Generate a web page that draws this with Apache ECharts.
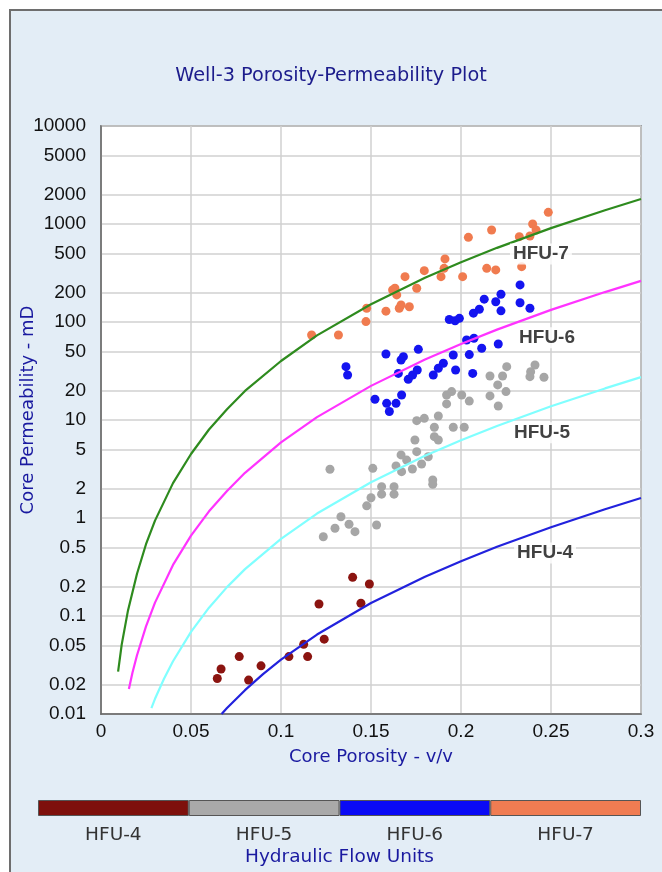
<!DOCTYPE html>
<html>
<head>
<meta charset="utf-8">
<script src="https://cdn.jsdelivr.net/npm/echarts@6/dist/echarts.min.js"></script>
<style>
  html, body { margin: 0; padding: 0; background: #fff; }
  #chart { width: 662px; height: 872px; }
</style>
</head>
<body>
<div id="chart"></div>
<script>
// y axis ticks (log scale, 1-2-5 per decade)
const yTicks = [0.01, 0.02, 0.05, 0.1, 0.2, 0.5, 1, 2, 5, 10, 20, 50, 100, 200, 500, 1000, 2000, 5000, 10000];
const units = ["HFU-4", "HFU-5", "HFU-6", "HFU-7"];

// core data points per flow unit (porosity v/v, permeability mD)
const hfu4Phi = [0.0646, 0.0667, 0.0768, 0.082, 0.0889, 0.1044, 0.1126, 0.1148, 0.1211, 0.124, 0.1398, 0.1444, 0.1491];
const hfu4K = [0.023, 0.0288, 0.0385, 0.0222, 0.031, 0.0385, 0.0514, 0.0385, 0.1325, 0.058, 0.248, 0.135, 0.212];

const hfu5Phi = [0.1272, 0.151, 0.1235, 0.13, 0.1333, 0.1378, 0.1411, 0.1476, 0.15, 0.1531, 0.1559, 0.1559, 0.1628, 0.1628,
  0.1639, 0.1667, 0.167, 0.1698, 0.173, 0.1744, 0.1754, 0.1781, 0.1818, 0.1843, 0.1843, 0.1754, 0.1796, 0.1852, 0.1852,
  0.1874, 0.1874, 0.192, 0.192, 0.1948, 0.1957, 0.2004, 0.2018, 0.2046, 0.2161, 0.2161, 0.2204, 0.2207, 0.2231, 0.225,
  0.2254, 0.2387, 0.2411, 0.2461, 0.2383];
const hfu5K = [3.14, 3.21, 0.644, 0.785, 1.03, 0.863, 0.725, 1.33, 1.61, 0.849, 2.09, 1.75, 2.09, 1.75,
  3.4, 4.4, 2.97, 3.9, 3.16, 6.25, 4.75, 3.56, 4.22, 2.44, 2.21, 9.84, 10.4, 8.43, 6.76,
  6.25, 11, 18, 14.6, 19.5, 8.43, 18, 8.43, 15.6, 28.1, 17.6, 22.8, 13.9, 28.1, 19.5,
  35, 31.1, 36.4, 27.3, 27.7];

const hfu6Phi = [0.1361, 0.137, 0.1583, 0.1667, 0.168, 0.1763, 0.1652, 0.1707, 0.1731, 0.1757, 0.1846, 0.1874, 0.1902,
  0.1957, 0.197, 0.2046, 0.2065, 0.2031, 0.2072, 0.2115, 0.2207, 0.1935, 0.1967, 0.1991, 0.2069, 0.2102, 0.2129,
  0.2193, 0.2222, 0.2222, 0.2328, 0.2328, 0.2383, 0.1522, 0.1587, 0.1602, 0.1639, 0.167];
const hfu6K = [35, 28.8, 47.1, 41, 44.3, 52.6, 29.9, 26, 28.8, 32.4, 28.8, 33.7, 37.9,
  46, 32.4, 46.5, 29.9, 65.5, 68.2, 53.9, 59.7, 106, 103, 109, 123, 135, 171,
  161, 192, 130, 239, 157, 138, 16.3, 14.8, 12.2, 14.8, 18];

const hfu7Phi = [0.117, 0.1319, 0.1472, 0.1476, 0.1583, 0.1657, 0.1667, 0.1713, 0.1633, 0.1643, 0.162, 0.1689, 0.1754,
  0.1796, 0.1889, 0.1906, 0.1911, 0.2009, 0.2041, 0.2143, 0.2193, 0.217, 0.2324, 0.2337, 0.2383, 0.2398, 0.2417, 0.2485];
const hfu7K = [73.7, 73.7, 101, 138, 129, 138, 149, 143, 221, 189, 212, 290, 221,
  334, 290, 353, 440, 290, 731, 353, 340, 869, 743, 367, 755, 1000, 869, 1316];

// flow unit trend curves
const curve7Phi = [0.0095, 0.0115, 0.015, 0.02, 0.025, 0.03, 0.04, 0.05, 0.06, 0.07, 0.08, 0.1, 0.12, 0.15, 0.18, 0.2, 0.22, 0.25, 0.28, 0.3];
const curve7K = [0.027, 0.051, 0.114, 0.27, 0.54, 0.94, 2.27, 4.5, 8.0, 12.9, 19.8, 40, 73, 152, 283, 408, 571, 907, 1383, 1800];
const curve6Phi = [0.0155, 0.0175, 0.02, 0.025, 0.03, 0.04, 0.05, 0.06, 0.07, 0.08, 0.1, 0.12, 0.15, 0.18, 0.2, 0.22, 0.25, 0.28, 0.3];
const curve6K = [0.018, 0.0265, 0.0398, 0.0785, 0.137, 0.332, 0.661, 1.17, 1.89, 2.89, 5.9, 10.7, 22.3, 41.4, 59.7, 83.6, 133, 202, 263];
const curve5Phi = [0.028, 0.03, 0.035, 0.04, 0.05, 0.06, 0.07, 0.08, 0.1, 0.12, 0.15, 0.18, 0.2, 0.22, 0.25, 0.28, 0.3];
const curve5K = [0.0115, 0.0143, 0.0229, 0.0345, 0.0688, 0.1215, 0.197, 0.301, 0.613, 1.11, 2.32, 4.31, 6.21, 8.7, 13.8, 21, 27.4];
const curve4Phi = [0.067, 0.07, 0.08, 0.09, 0.1, 0.12, 0.15, 0.18, 0.2, 0.22, 0.25, 0.28, 0.3];
const curve4K = [0.01, 0.0115, 0.0175, 0.0255, 0.0358, 0.0647, 0.1355, 0.2515, 0.3625, 0.508, 0.806, 1.23, 1.6];

// curve labels inside the plot
const labelNames = ["HFU-7", "HFU-6", "HFU-5", "HFU-4"];
const labelPhi = [0.2444, 0.2478, 0.245, 0.2467];
const labelK = [494, 69, 7.4, 0.44];

const pointColors = ["#8b1410", "#a6a6a6", "#1414f0", "#f07b4f"];
const barColors = ["#7e100c", "#a9a9a9", "#0a0af5", "#f07c52"];

const zip = (xs, ys) => xs.map((x, i) => [x, ys[i]]);
const FONT = "Liberation Sans";
const WIDE = "DejaVu Sans";

const chart = echarts.init(document.getElementById("chart"));

const scatter = (name, xs, ys, color) => ({
  name: name,
  type: "scatter",
  data: zip(xs, ys),
  symbolSize: 9,
  itemStyle: { color: color, opacity: 1 },
  z: 3,
});

const curve = (name, xs, ys, color) => ({
  name: name,
  type: "line",
  data: zip(xs, ys),
  showSymbol: false,
  symbol: "none",
  lineStyle: { color: color, width: 2.2 },
  z: 4,
});

const option = {
  animation: false,
  backgroundColor: "#fff",
  textStyle: { fontFamily: FONT },
  graphic: [
    {
      type: "rect",
      shape: { x: 10, y: 10, width: 700, height: 900 },
      style: { fill: "#e3edf6", stroke: "#6e6e6e", lineWidth: 2 },
      z: -10,
      silent: true,
    },
  ],
  title: {
    text: "Well-3 Porosity-Permeability Plot",
    left: "center",
    top: 61,
    textStyle: { fontFamily: WIDE, fontSize: 19.3, fontWeight: "normal", color: "#1c1c8c" },
  },
  grid: [
    {
      left: 101, top: 126, width: 540, height: 588,
      outerBoundsMode: "none",
      show: true, backgroundColor: "#fff", borderColor: "#666", borderWidth: 1.5,
    },
    { left: 38, top: 800, width: 603, height: 16, outerBoundsMode: "none" },
  ],
  xAxis: [
    {
      type: "value",
      gridIndex: 0,
      min: 0, max: 0.3, interval: 0.05,
      name: "Core Porosity - v/v",
      nameLocation: "middle",
      nameGap: 34,
      nameMoveOverlap: false,
      nameTextStyle: { fontFamily: WIDE, fontSize: 18, color: "#1a1aa0" },
      axisLine: { show: true, lineStyle: { color: "#666", width: 1.5 } },
      axisTick: { show: false },
      axisLabel: { fontFamily: FONT, fontSize: 19, color: "#111", margin: 8 },
      splitLine: { show: true, lineStyle: { color: "#d0d0d0", width: 1.5 } },
    },
    {
      type: "category",
      gridIndex: 1,
      data: units,
      name: "Hydraulic Flow Units",
      nameLocation: "middle",
      nameGap: 32,
      nameMoveOverlap: false,
      nameTextStyle: { fontFamily: WIDE, fontSize: 18.5, color: "#1a1aa0" },
      axisLine: { show: false },
      axisTick: { show: false },
      axisLabel: { fontFamily: WIDE, fontSize: 18.5, color: "#333", margin: 10 },
      splitLine: { show: false },
    },
  ],
  yAxis: [
    {
      type: "log",
      logBase: 10,
      gridIndex: 0,
      min: 0.01, max: 10000,
      name: "Core Permeability - mD",
      nameLocation: "middle",
      nameGap: 64,
      nameMoveOverlap: false,
      nameTextStyle: { fontFamily: WIDE, fontSize: 18, color: "#1a1aa0", padding: [0, 0, 0, 20] },
      axisLine: { show: true, lineStyle: { color: "#666", width: 1.5 } },
      axisTick: { show: false, customValues: yTicks },
      axisLabel: {
        customValues: yTicks,
        fontFamily: FONT, fontSize: 19, color: "#111", margin: 15,
        formatter: (v) => String(+Number(v).toPrecision(4)),
      },
      splitLine: { show: true, lineStyle: { color: "#d0d0d0", width: 1.5 } },
    },
    { type: "value", gridIndex: 1, min: 0, max: 1, show: false },
  ],
  series: [
    scatter("HFU-4", hfu4Phi, hfu4K, pointColors[0]),
    scatter("HFU-5", hfu5Phi, hfu5K, pointColors[1]),
    scatter("HFU-6", hfu6Phi, hfu6K, pointColors[2]),
    scatter("HFU-7", hfu7Phi, hfu7K, pointColors[3]),
    curve("curve HFU-7", curve7Phi, curve7K, "#2e8b1e"),
    curve("curve HFU-6", curve6Phi, curve6K, "#ff33ff"),
    curve("curve HFU-5", curve5Phi, curve5K, "#80ffff"),
    curve("curve HFU-4", curve4Phi, curve4K, "#2222dd"),
    {
      name: "labels",
      type: "scatter",
      data: labelNames.map((n, i) => ({ name: n, value: [labelPhi[i], labelK[i]] })),
      symbolSize: 0,
      z: 5,
      label: {
        show: true,
        position: "inside",
        formatter: "{b}",
        fontFamily: FONT, fontSize: 19, fontWeight: "bold", color: "#111",
        backgroundColor: "#fff", padding: [1, 3],
      },
    },
    {
      name: "units bar",
      type: "bar",
      xAxisIndex: 1,
      yAxisIndex: 1,
      barWidth: "100%",
      barCategoryGap: "0%",
      data: units.map((u, i) => ({ value: 1, itemStyle: { color: barColors[i] } })),
      itemStyle: { borderColor: "#555", borderWidth: 1 },
    },
  ],
};

chart.setOption(option);
</script>
</body>
</html>
